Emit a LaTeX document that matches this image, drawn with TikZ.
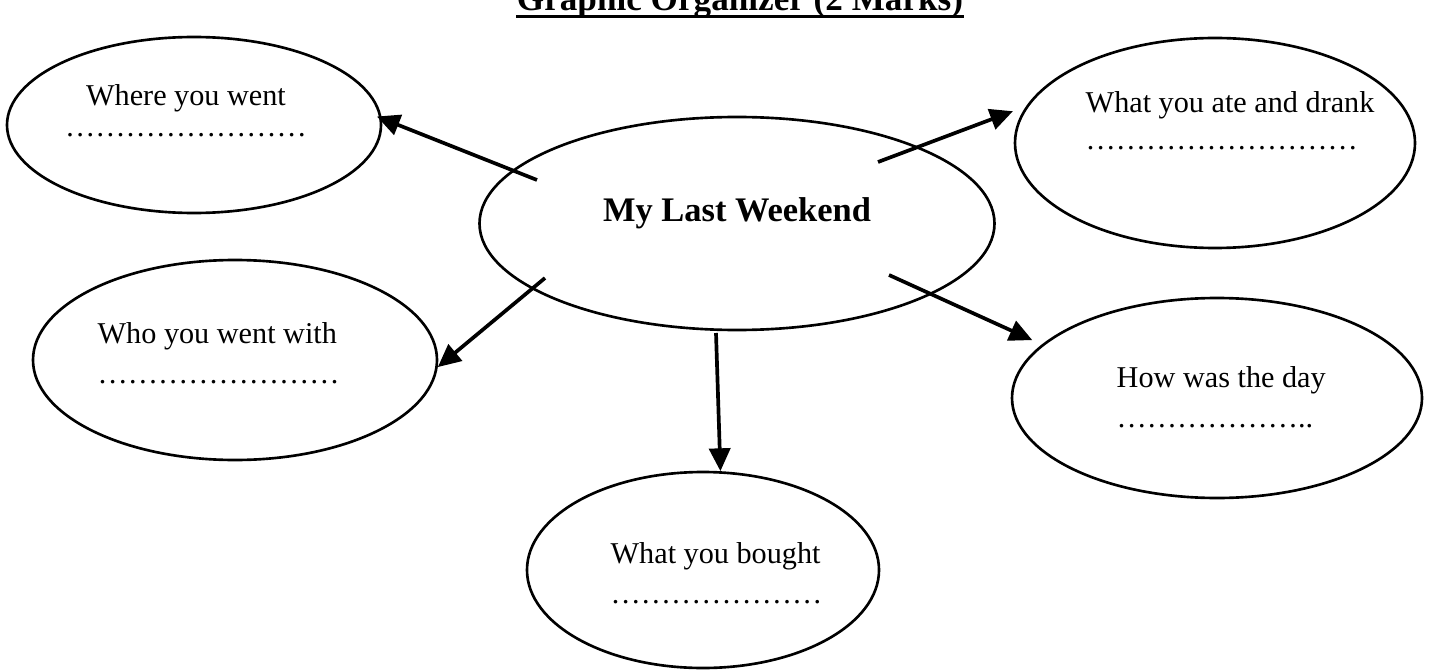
\documentclass[tikz,border=0pt]{standalone}
\usepackage{fontspec}
\setmainfont{Liberation Serif}
\usepackage{tikz}
\usetikzlibrary{shapes.geometric,arrows.meta}

\begin{document}
\begin{tikzpicture}
\tikzset{
  bubble/.style={draw=black, ellipse, line width=0.75pt, inner sep=0pt},
  prompt/.style={align=left, anchor=base west, inner sep=0pt,
    font=\fontsize{8.6}{11.3}\selectfont},
  pointer/.style={draw=black, line width=1.05pt,
    -{Triangle[length=6.5pt,width=6pt]}}
}
\useasboundingbox (0,0) rectangle (14.41,-6.70);
\node [anchor=base, inner sep=0pt, font=\bfseries\fontsize{10}{12}\selectfont] (title) at (7.40,-0.11) {Graphic Organizer (2 Marks)};
\draw [black, line width=0.9pt] ([yshift=-1.6pt]title.base west) -- ([yshift=-1.6pt]title.base east);
\node [bubble, minimum width=5.15cm, minimum height=2.13cm] (centre) at (7.37,-2.235) {};
\node [anchor=base, inner sep=0pt, font=\bfseries\fontsize{9.8}{11}\selectfont] (centretxt) at (7.37,-2.21) {My Last Weekend};
\node [bubble, minimum width=3.74cm, minimum height=1.76cm] (where) at (1.94,-1.25) {};
\node [prompt, align=center, anchor=base] (wheretxt) at (1.86,-1.36) {Where you went\\[-2.5pt]……………………};
\node [bubble, minimum width=4.00cm, minimum height=2.10cm] (ate) at (12.15,-1.43) {};
\node [prompt] (atetxt) at (10.85,-1.50) {What you ate and drank\\[-0.5pt]………………………};
\node [bubble, minimum width=4.04cm, minimum height=2.00cm] (who) at (2.35,-3.60) {};
\node [prompt] (whotxt) at (0.97,-3.83) {Who you went with\\……………………};
\node [bubble, minimum width=4.10cm, minimum height=2.00cm] (how) at (12.17,-3.98) {};
\node [prompt] (howtxt) at (11.16,-4.27) {How was the day\\………………..};
\node [bubble, minimum width=3.52cm, minimum height=1.96cm] (bought) at (7.03,-5.70) {};
\node [prompt] (boughttxt) at (6.10,-6.03) {What you bought\\…………………};
% arrows leave from inside the centre bubble
\coordinate (s1) at (5.37,-1.80);
\coordinate (s2) at (8.78,-1.62);
\coordinate (s3) at (5.45,-2.78);
\coordinate (s4) at (8.89,-2.75);
\coordinate (s5) at (7.16,-3.33);
\draw [pointer, shorten >=-1.5pt] (s1) -- (where.2);
\draw [pointer, shorten >=4pt] (s2) -- (ate.169);
\draw [pointer] (s3) -- (who.-2);
\draw [pointer, shorten >=3pt] (s4) -- (how.163.6);
\draw [pointer] (s5) -- (bought.80);
\end{tikzpicture}
\end{document}
